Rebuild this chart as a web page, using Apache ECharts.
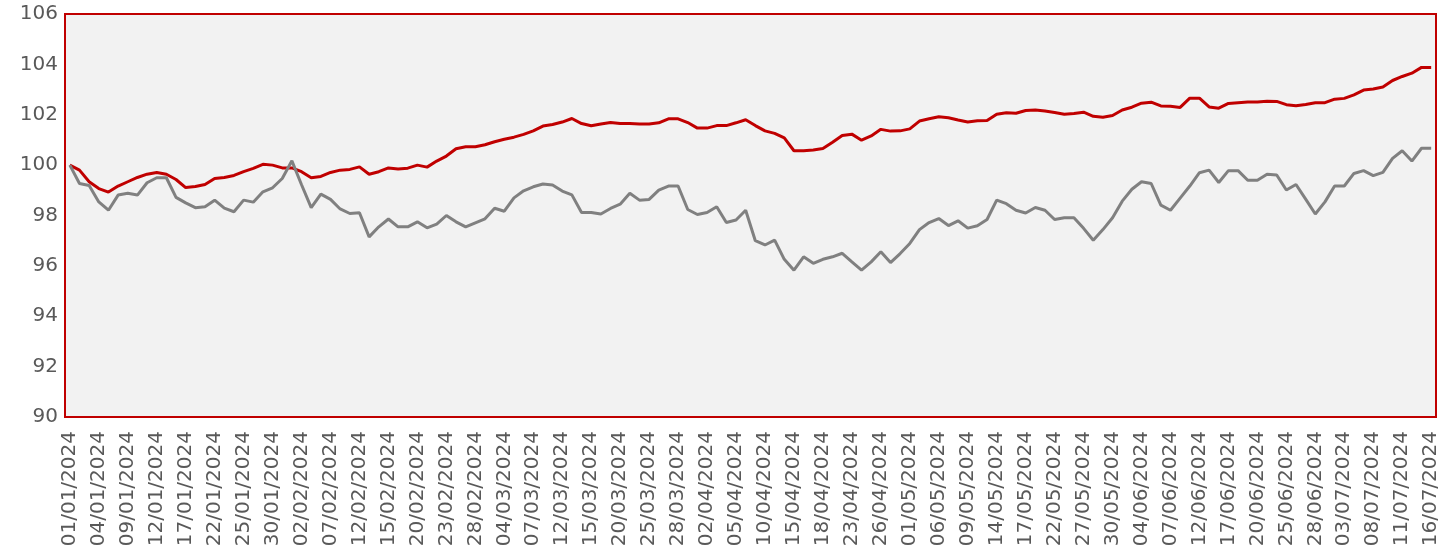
<!DOCTYPE html>
<html>
<head>
<meta charset="utf-8">
<script src="https://cdn.jsdelivr.net/npm/echarts@6/dist/echarts.min.js"></script>
<style>
html,body{margin:0;padding:0;background:#fff;}
#c{width:1452px;height:555px;}
</style>
</head>
<body>
<div id="c"></div>
<script>
const categories = [
"01/01/2024","02/01/2024","03/01/2024","04/01/2024","05/01/2024","08/01/2024","09/01/2024","10/01/2024","11/01/2024","12/01/2024",
"15/01/2024","16/01/2024","17/01/2024","18/01/2024","19/01/2024","22/01/2024","23/01/2024","24/01/2024","25/01/2024","26/01/2024",
"29/01/2024","30/01/2024","31/01/2024","01/02/2024","02/02/2024","05/02/2024","06/02/2024","07/02/2024","08/02/2024","09/02/2024",
"12/02/2024","13/02/2024","14/02/2024","15/02/2024","16/02/2024","19/02/2024","20/02/2024","21/02/2024","22/02/2024","23/02/2024",
"26/02/2024","27/02/2024","28/02/2024","29/02/2024","01/03/2024","04/03/2024","05/03/2024","06/03/2024","07/03/2024","08/03/2024",
"11/03/2024","12/03/2024","13/03/2024","14/03/2024","15/03/2024","18/03/2024","19/03/2024","20/03/2024","21/03/2024","22/03/2024",
"25/03/2024","26/03/2024","27/03/2024","28/03/2024","29/03/2024","01/04/2024","02/04/2024","03/04/2024","04/04/2024","05/04/2024",
"08/04/2024","09/04/2024","10/04/2024","11/04/2024","12/04/2024","15/04/2024","16/04/2024","17/04/2024","18/04/2024","19/04/2024",
"22/04/2024","23/04/2024","24/04/2024","25/04/2024","26/04/2024","29/04/2024","30/04/2024","01/05/2024","02/05/2024","03/05/2024",
"06/05/2024","07/05/2024","08/05/2024","09/05/2024","10/05/2024","13/05/2024","14/05/2024","15/05/2024","16/05/2024","17/05/2024",
"20/05/2024","21/05/2024","22/05/2024","23/05/2024","24/05/2024","27/05/2024","28/05/2024","29/05/2024","30/05/2024","31/05/2024",
"03/06/2024","04/06/2024","05/06/2024","06/06/2024","07/06/2024","10/06/2024","11/06/2024","12/06/2024","13/06/2024","14/06/2024",
"17/06/2024","18/06/2024","19/06/2024","20/06/2024","21/06/2024","24/06/2024","25/06/2024","26/06/2024","27/06/2024","28/06/2024",
"01/07/2024","02/07/2024","03/07/2024","04/07/2024","05/07/2024","08/07/2024","09/07/2024","10/07/2024","11/07/2024","12/07/2024",
"15/07/2024","16/07/2024"
];

const redSeries = [
100.00,99.80,99.34,99.07,98.93,99.17,99.34,99.51,99.64,99.71,
99.64,99.43,99.11,99.15,99.23,99.47,99.51,99.59,99.74,99.87,
100.03,100.00,99.89,99.89,99.74,99.50,99.55,99.71,99.80,99.83,
99.93,99.64,99.74,99.89,99.85,99.88,100.00,99.92,100.16,100.36,
100.65,100.73,100.73,100.81,100.93,101.03,101.11,101.22,101.36,101.55,
101.61,101.71,101.85,101.65,101.56,101.63,101.69,101.65,101.65,101.63,
101.63,101.68,101.84,101.84,101.69,101.47,101.47,101.57,101.57,101.68,
101.80,101.57,101.36,101.26,101.08,100.57,100.57,100.60,100.66,100.91,
101.18,101.23,100.99,101.16,101.42,101.35,101.36,101.44,101.75,101.84,
101.92,101.88,101.79,101.71,101.76,101.77,102.02,102.08,102.06,102.17,
102.19,102.15,102.09,102.02,102.05,102.10,101.94,101.90,101.97,102.19,
102.30,102.46,102.50,102.35,102.34,102.29,102.66,102.66,102.31,102.26,
102.45,102.48,102.51,102.51,102.54,102.53,102.40,102.36,102.41,102.48,
102.48,102.62,102.65,102.79,102.98,103.02,103.10,103.36,103.52,103.65,
103.88,103.88
];

const graySeries = [
100.00,99.27,99.19,98.54,98.21,98.81,98.88,98.81,99.30,99.50,
99.50,98.72,98.50,98.31,98.35,98.61,98.29,98.15,98.61,98.53,
98.94,99.10,99.47,100.17,99.22,98.31,98.85,98.64,98.26,98.08,
98.11,97.15,97.55,97.86,97.55,97.55,97.75,97.51,97.66,98.00,
97.75,97.55,97.71,97.87,98.29,98.17,98.70,98.98,99.14,99.25,
99.21,98.97,98.82,98.12,98.12,98.06,98.28,98.45,98.88,98.61,
98.64,99.01,99.17,99.17,98.24,98.04,98.12,98.35,97.72,97.82,
98.21,97.00,96.83,97.02,96.26,95.83,96.36,96.10,96.26,96.36,
96.50,96.16,95.83,96.16,96.56,96.13,96.49,96.89,97.44,97.72,
97.88,97.60,97.79,97.50,97.59,97.84,98.61,98.47,98.21,98.10,
98.32,98.21,97.84,97.91,97.91,97.49,97.02,97.44,97.91,98.57,
99.04,99.34,99.27,98.41,98.21,98.69,99.17,99.70,99.80,99.31,
99.78,99.78,99.40,99.40,99.64,99.61,99.01,99.23,98.65,98.06,
98.54,99.17,99.17,99.67,99.78,99.58,99.71,100.27,100.57,100.16,
100.67,100.67
];

const yMin = 90, yMax = 106, yStep = 2;

const chart = echarts.init(document.getElementById('c'), null, {renderer:'canvas'});
const font = '"DejaVu Sans", sans-serif';
chart.setOption({
  animation: false,
  backgroundColor: '#ffffff',
  grid: {
    left: 65, right: 16, top: 14, bottom: 138,
    show: true, backgroundColor: '#F2F2F2',
    borderColor: '#C00000', borderWidth: 2
  },
  xAxis: {
    type: 'category',
    data: categories,
    boundaryGap: true,
    axisLine: {show: false},
    axisTick: {show: false},
    splitLine: {show: false},
    axisLabel: {
      interval: 2, rotate: 90, margin: 14,
      color: '#595959', fontFamily: font, fontSize: 20
    }
  },
  yAxis: {
    type: 'value',
    min: yMin, max: yMax, interval: yStep,
    axisLine: {show: false},
    axisTick: {show: false},
    splitLine: {show: false},
    axisLabel: {
      margin: 7, color: '#595959', fontFamily: font, fontSize: 20
    }
  },
  series: [
    {
      type: 'line', data: redSeries, showSymbol: false, symbol: 'none',
      lineStyle: {color: '#C00000', width: 3}, z: 2
    },
    {
      type: 'line', data: graySeries, showSymbol: false, symbol: 'none',
      lineStyle: {color: '#808080', width: 3}, z: 3
    }
  ]
});
</script>
</body>
</html>
